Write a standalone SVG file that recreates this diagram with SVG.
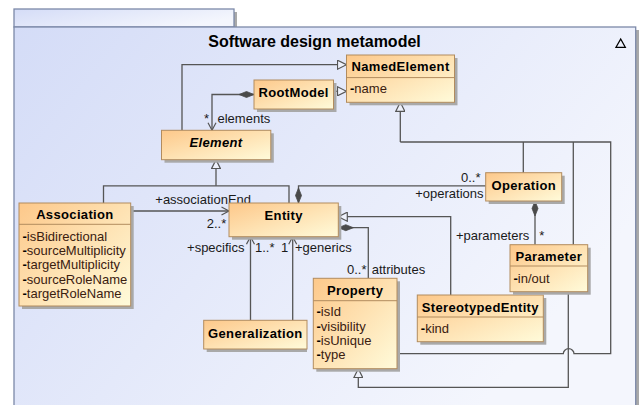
<svg xmlns="http://www.w3.org/2000/svg" width="642" height="405" viewBox="0 0 642 405">
<defs>
<linearGradient id="fg" x1="0" y1="0" x2="1" y2="0.5">
<stop offset="0" stop-color="#D4DCF7"/>
<stop offset="1" stop-color="#F4F6FD"/>
</linearGradient>
<linearGradient id="ng" x1="0" y1="0" x2="1" y2="1">
<stop offset="0" stop-color="#FDC88A"/>
<stop offset="1" stop-color="#FFFBDA"/>
</linearGradient>
<marker id="gen" markerUnits="userSpaceOnUse" viewBox="0 0 10 10" refX="9.5" refY="5" markerWidth="10" markerHeight="10" orient="auto">
<path d="M0.5,0.5 L9.5,5 L0.5,9.5 Z" fill="#EEF1FB" stroke="#555" stroke-width="1.2"/>
</marker>
<marker id="open" markerUnits="userSpaceOnUse" viewBox="0 0 10 10" refX="8.5" refY="5" markerWidth="10" markerHeight="10" orient="auto">
<path d="M1,1 L8.5,5 L1,9" fill="none" stroke="#555" stroke-width="1.2"/>
</marker>
<marker id="comp" markerUnits="userSpaceOnUse" viewBox="0 0 16 8" refX="0" refY="4" markerWidth="16" markerHeight="8" orient="auto">
<path d="M0,4 L7.5,1 L15,4 L7.5,7 Z" fill="#4a4a4a" stroke="#4a4a4a" stroke-width="0.8"/>
</marker>
</defs>
<style>
.sh{fill:#a9a9a9}
.box{fill:url(#ng);stroke:#B28C5E;stroke-width:1}
.dv{stroke:#B28C5E;stroke-width:1}
.h{font-family:"Liberation Sans",Arial,sans-serif;font-size:13px;font-weight:bold;letter-spacing:0.35px;text-anchor:middle;fill:#000}
.a{font-family:"Liberation Sans",Arial,sans-serif;font-size:13px;fill:#3a2010}
.a tspan{font-weight:bold;fill:#000}
.l{font-family:"Liberation Sans",Arial,sans-serif;font-size:13px;fill:#1a1a1a}
.c{fill:none;stroke:#555;stroke-width:1.3}
</style>

<g id="frame">
<rect x="17" y="12" width="220" height="18" class="sh"/>
<rect x="17" y="30" width="622" height="380" class="sh"/>
<rect x="14" y="9" width="220" height="18" fill="url(#fg)" stroke="#7C89A8" stroke-width="1.3"/>
<rect x="14" y="27" width="621.7" height="380" fill="url(#fg)" stroke="#7C89A8" stroke-width="1.3"/>
<text x="314.5" y="47" font-family="Liberation Sans, Arial, sans-serif" font-size="16" font-weight="bold" text-anchor="middle" fill="#000">Software design metamodel</text>
<path d="M616,47.3 L625.3,47.3 L620.7,39 Z" fill="none" stroke="#000" stroke-width="1.3"/>
</g>

<g id="connectors">
<path class="c" d="M182,130.3 V64.7 H346.5" marker-end="url(#gen)"/>
<path class="c" d="M333.5,91.3 H346.5" marker-end="url(#gen)"/>
<path class="c" d="M254,94.5 H212 V130.3" marker-start="url(#comp)" marker-end="url(#open)"/>
<path class="c" d="M103.5,203 V185.8 H289 V203"/>
<path class="c" d="M216,185.8 V159.7" marker-end="url(#gen)"/>
<path class="c" d="M130.7,211 H229" marker-end="url(#open)"/>
<path class="c" d="M250.5,320.3 V236.7" marker-end="url(#open)"/>
<path class="c" d="M292.7,320.3 V236.7" marker-end="url(#open)"/>
<path class="c" d="M298.5,203 V185.8 H485.7" marker-start="url(#comp)"/>
<path class="c" d="M535,201 V244.7" marker-start="url(#comp)"/>
<path class="c" d="M338.3,227.7 H368.3 V278.3" marker-start="url(#comp)"/>
<path class="c" d="M450.7,295 V216.7 H338.3" marker-end="url(#gen)"/>
<path class="c" d="M400.3,142 V102.3" marker-end="url(#gen)"/>
<path class="c" d="M400.3,142 H610.7 V353.7 H574 A5.35,5 0 0 0 563.3,353.7 H397"/>
<path class="c" d="M523.3,172.7 V142"/>
<path class="c" d="M573.3,244.7 V142"/>
<path class="c" d="M568.3,291.7 V387.3 H358.3 V368.7" marker-end="url(#gen)"/>
<text class="l" x="204" y="122.5">*</text>
<text class="l" x="217.5" y="122.5">elements</text>
<text class="l" x="155.3" y="204.3">+associationEnd</text>
<text class="l" x="206.7" y="228.3">2..*</text>
<text class="l" x="244.5" y="251.7" text-anchor="end">+specifics</text>
<text class="l" x="255" y="251.7">1..*</text>
<text class="l" x="281" y="251.7">1</text>
<text class="l" x="295" y="251.7">+generics</text>
<text class="l" x="347" y="274.3">0..*</text>
<text class="l" x="371.7" y="274.3">attributes</text>
<text class="l" x="461" y="181.7">0..*</text>
<text class="l" x="483.5" y="198.3" text-anchor="end">+operations</text>
<text class="l" x="529.3" y="240" text-anchor="end">+parameters</text>
<text class="l" x="539.3" y="240">*</text>
</g>

<g id="NamedElement">
<rect x="349.5" y="58" width="108" height="47.3" class="sh"/>
<rect x="346.5" y="55" width="108" height="47.3" class="box"/>
<line x1="346.5" y1="77.6" x2="454.5" y2="77.6" class="dv"/>
<text class="h" x="400.5" y="71">NamedElement</text>
<text class="a" x="350" y="93.3"><tspan>-</tspan>name</text>
</g>

<g id="RootModel">
<rect x="257" y="83" width="79.5" height="29" class="sh"/>
<rect x="254" y="80" width="79.5" height="29" class="box"/>
<text class="h" x="293.7" y="97">RootModel</text>
</g>

<g id="Element">
<rect x="164.5" y="133.3" width="109.3" height="29.4" class="sh"/>
<rect x="161.5" y="130.3" width="109.3" height="29.4" class="box"/>
<text class="h" x="216" y="147.3" font-style="italic">Element</text>
</g>

<g id="Association">
<rect x="22" y="206" width="111.7" height="103" class="sh"/>
<rect x="19" y="203" width="111.7" height="103" class="box"/>
<line x1="19" y1="224.3" x2="130.7" y2="224.3" class="dv"/>
<text class="h" x="74.9" y="219">Association</text>
<text class="a" x="22.5" y="240.7"><tspan>-</tspan>isBidirectional</text>
<text class="a" x="22.5" y="255"><tspan>-</tspan>sourceMultiplicity</text>
<text class="a" x="22.5" y="269.3"><tspan>-</tspan>targetMultiplicity</text>
<text class="a" x="22.5" y="283.7"><tspan>-</tspan>sourceRoleName</text>
<text class="a" x="22.5" y="298"><tspan>-</tspan>targetRoleName</text>
</g>

<g id="Entity">
<rect x="232" y="206" width="109.3" height="33.7" class="sh"/>
<rect x="229" y="203" width="109.3" height="33.7" class="box"/>
<text class="h" x="283.7" y="219.7">Entity</text>
</g>

<g id="Generalization">
<rect x="206.7" y="323.3" width="100.3" height="28.7" class="sh"/>
<rect x="203.7" y="320.3" width="103.3" height="28.7" class="box"/>
<text class="h" x="255.3" y="337.7">Generalization</text>
</g>

<g id="Property">
<rect x="316.3" y="281.3" width="83.7" height="90.4" class="sh"/>
<rect x="313.3" y="278.3" width="83.7" height="90.4" class="box"/>
<line x1="313.3" y1="300.7" x2="397" y2="300.7" class="dv"/>
<text class="h" x="355.2" y="295.3">Property</text>
<text class="a" x="316.5" y="316"><tspan>-</tspan>isId</text>
<text class="a" x="316.5" y="330.5"><tspan>-</tspan>visibility</text>
<text class="a" x="316.5" y="345"><tspan>-</tspan>isUnique</text>
<text class="a" x="316.5" y="359.3"><tspan>-</tspan>type</text>
</g>

<g id="StereotypedEntity">
<rect x="420.3" y="298" width="126" height="46.7" class="sh"/>
<rect x="417.3" y="295" width="126" height="46.7" class="box"/>
<line x1="417.3" y1="317" x2="543.3" y2="317" class="dv"/>
<text class="h" x="480.3" y="311.5">StereotypedEntity</text>
<text class="a" x="420.8" y="332.7"><tspan>-</tspan>kind</text>
</g>

<g id="Parameter">
<rect x="513" y="247.7" width="77.7" height="47" class="sh"/>
<rect x="510" y="244.7" width="77.7" height="47" class="box"/>
<line x1="510" y1="266" x2="587.7" y2="266" class="dv"/>
<text class="h" x="548.8" y="261">Parameter</text>
<text class="a" x="513.5" y="282.7"><tspan>-</tspan>in/out</text>
</g>

<g id="Operation">
<rect x="488.7" y="175.7" width="76" height="28.3" class="sh"/>
<rect x="485.7" y="172.7" width="76" height="28.3" class="box"/>
<text class="h" x="523.7" y="190.3">Operation</text>
</g>
</svg>
